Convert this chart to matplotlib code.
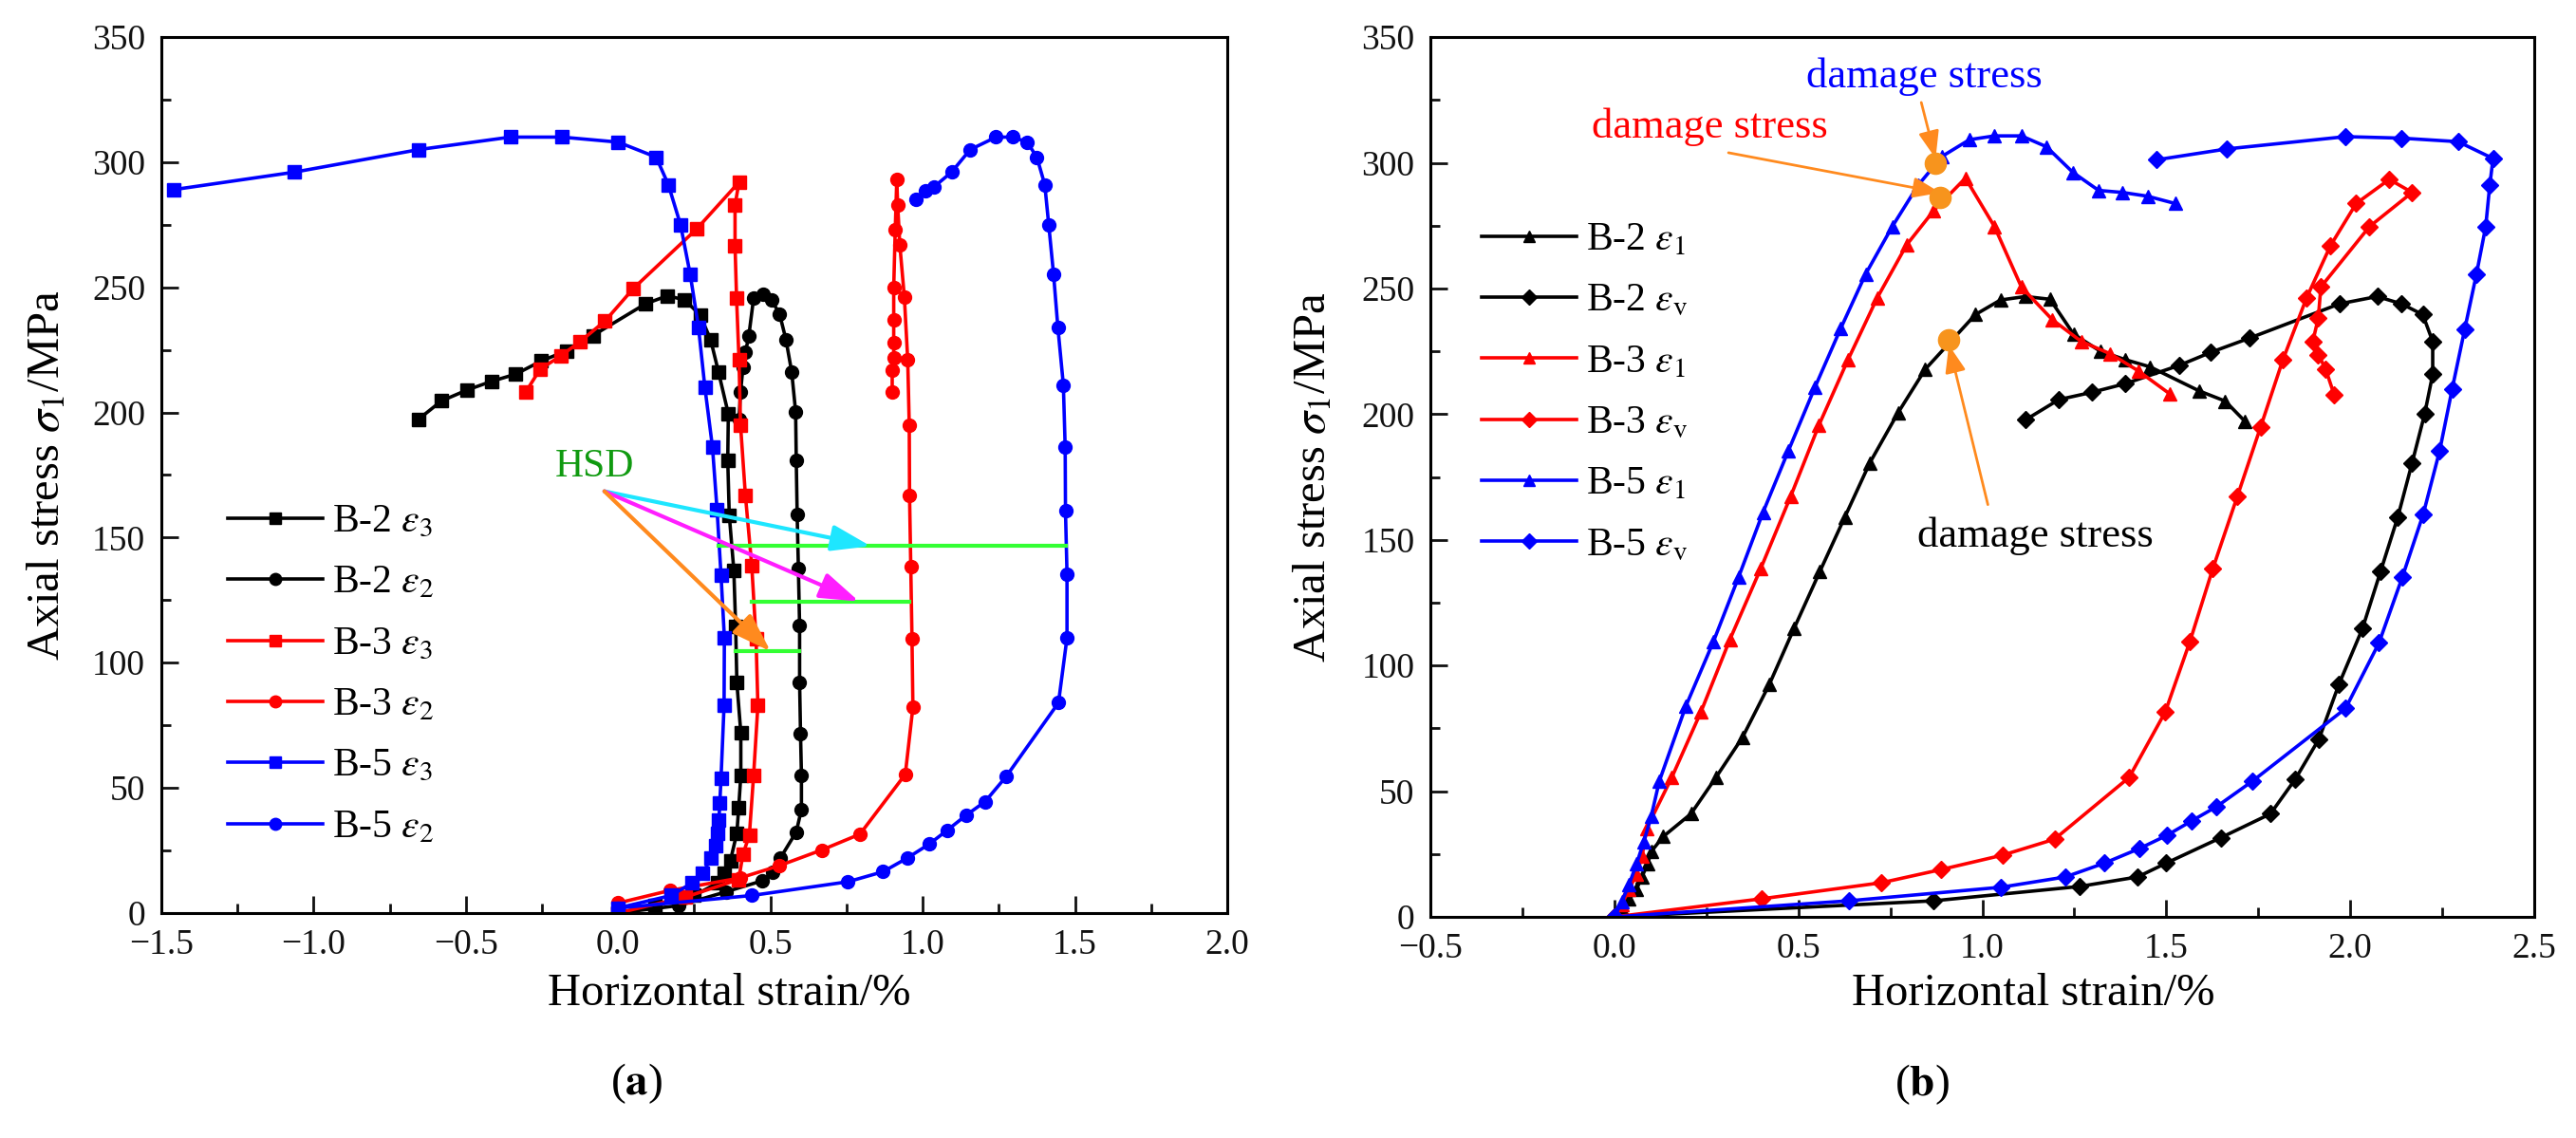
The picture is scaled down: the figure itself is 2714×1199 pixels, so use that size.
import matplotlib
matplotlib.use("Agg")
import matplotlib.pyplot as plt
from matplotlib.ticker import MultipleLocator

plt.rcParams["font.family"] = ["Liberation Serif", "DejaVu Serif"]
plt.rcParams["mathtext.fontset"] = "stix"

# ---- panel (a): horizontal strains ----
B2_E3_X = [0, 0.12, 0.25, 0.327, 0.348, 0.369, 0.39, 0.396, 0.403, 0.403, 0.39, 0.386, 0.38, 0.365,
           0.36, 0.362, 0.33, 0.304, 0.269, 0.218, 0.162, 0.09, -0.083, -0.17, -0.253, -0.336,
           -0.416, -0.495, -0.58, -0.655]
B2_E3_Y = [0, 3, 7, 12, 16, 21, 32, 42, 55, 72, 92, 114.5, 137, 159, 181, 199.4, 216, 229, 239,
           245, 246.6, 243.4, 230.7, 224.6, 220.5, 215.3, 212.4, 209, 204.6, 197.3]

B2_E2_X = [0, 0.20, 0.355, 0.474, 0.508, 0.532, 0.585, 0.602, 0.602, 0.599, 0.596, 0.596, 0.592,
           0.588, 0.585, 0.583, 0.570, 0.551, 0.530, 0.503, 0.477, 0.445, 0.429, 0.418, 0.41,
           0.402, 0.397]
B2_E2_Y = [0, 3, 8.5, 12.9, 16.2, 21.8, 32.4, 41.4, 55, 71.7, 92.2, 114.7, 137.7, 159.2, 180.9,
           200.2, 216.2, 229.2, 239.4, 245.1, 247.2, 245.7, 230.4, 224, 218, 208, 197.3]

B3_E3_X = [0, 0.222, 0.396, 0.41, 0.431, 0.445, 0.459, 0.453, 0.439, 0.418, 0.402, 0.397, 0.389,
           0.384, 0.384, 0.397, 0.258, 0.05, -0.043, -0.125, -0.189, -0.256, -0.304]
B3_E3_Y = [0, 6.4, 13.4, 23.5, 31.1, 55.1, 82.9, 109.4, 138.6, 166.9, 195, 221, 245.7, 266.6,
           282.8, 292, 273.3, 249.5, 236.5, 228.3, 222.5, 217.3, 208]

B3_E2_X = [0, 0.17, 0.40, 0.529, 0.669, 0.794, 0.943, 0.968, 0.965, 0.961, 0.957, 0.956, 0.951,
           0.94, 0.925, 0.918, 0.915, 0.91, 0.905, 0.905, 0.905, 0.905, 0.90, 0.90]
B3_E2_Y = [4, 9, 14, 18.9, 25.2, 31.5, 55.4, 82.2, 109.7, 138.4, 166.9, 195, 221, 246, 267, 283,
           293, 273, 250, 237, 228, 222, 217, 208]

B5_E3_X = [0, 0.174, 0.243, 0.278, 0.306, 0.320, 0.327, 0.331, 0.334, 0.338, 0.348, 0.349, 0.338,
           0.325, 0.31, 0.285, 0.264, 0.237, 0.205, 0.165, 0.125, 0.0, -0.184, -0.354, -0.655,
           -1.063, -1.46]
B5_E3_Y = [2, 7, 12, 16, 22, 27, 32, 37, 44, 54, 83, 110, 135, 161, 186, 210, 234, 255, 275, 291,
           302, 308, 310, 310, 305, 296, 289]

B5_E2_X = [0, 0.439, 0.755, 0.870, 0.950, 1.021, 1.080, 1.142, 1.205, 1.274, 1.446, 1.474, 1.474,
           1.469, 1.468, 1.462, 1.444, 1.430, 1.414, 1.401, 1.375, 1.343, 1.297, 1.241, 1.156,
           1.095, 1.036, 1.01, 0.978]
B5_E2_Y = [2, 7, 12.5, 16.5, 22, 27.5, 33, 39, 44.5, 54.5, 84, 110, 135.5, 160.6, 186, 211, 234,
           255, 275, 291, 302, 308, 310, 310, 305, 296, 290, 288.6, 285]

# HSD bars: stress level, start strain, end strain
HSD_Y = [146.6, 124.5, 104.5]
HSD_X0 = [0.33, 0.44, 0.387]
HSD_X1 = [1.47, 0.957, 0.595]
HSD_TIP_X = [0.829, 0.791, 0.501]
HSD_COLORS = ["#1EE6FF", "#FF1EFF", "#FF8A1E"]

# ---- panel (b): axial and volumetric strains ----
B2_E1_X = [0, 0.02, 0.04, 0.06, 0.075, 0.09, 0.10, 0.133, 0.208, 0.276, 0.348, 0.421, 0.488, 0.558,
           0.626, 0.694, 0.771, 0.845, 0.981, 1.049, 1.117, 1.184, 1.248, 1.32, 1.388, 1.456,
           1.59, 1.66, 1.714]
B2_E1_Y = [0, 3, 7, 11, 16, 21, 26, 32, 41, 55.5, 71.4, 92.5, 114.7, 137.3, 159, 180.6, 200.6,
           217.9, 239.6, 245.4, 246.8, 245.7, 231.8, 225.1, 221.7, 218.8, 209.2, 205.2, 197.1]

B2_EV_X = [0, 0.868, 1.264, 1.422, 1.5, 1.648, 1.783, 1.851, 1.915, 1.969, 2.033, 2.082, 2.129,
           2.168, 2.202, 2.224, 2.224, 2.197, 2.139, 2.073, 1.971, 1.727, 1.621, 1.535, 1.388,
           1.298, 1.208, 1.117]
B2_EV_Y = [0, 6.4, 12.1, 15.9, 21.4, 31.5, 41, 54.9, 70.8, 92.5, 114.7, 137.3, 159, 180.6, 200,
           215.9, 228.9, 239.6, 243.9, 246.8, 243.9, 230.3, 224.6, 219.4, 212.1, 208.7, 205.8, 197.7]

B3_E1_X = [0, 0.02, 0.04, 0.06, 0.075, 0.088, 0.156, 0.235, 0.314, 0.398, 0.479, 0.556, 0.635,
           0.714, 0.794, 0.868, 0.954, 1.033, 1.106, 1.19, 1.269, 1.348, 1.423, 1.509]
B3_E1_Y = [0, 5, 11, 17, 24, 35.3, 55.5, 81.5, 110.4, 138.7, 167.3, 195.7, 221.7, 246.2, 267.3,
           281, 293.9, 274.6, 250.6, 237.6, 228.9, 224, 217.3, 208.1]

B3_EV_X = [0, 0.4, 0.726, 0.887, 1.056, 1.196, 1.399, 1.497, 1.564, 1.626, 1.693, 1.756, 1.817,
           1.881, 1.946, 2.016, 2.106, 2.168, 2.052, 1.92, 1.913, 1.898, 1.913, 1.933, 1.956]
B3_EV_Y = [0, 7.2, 13.6, 18.8, 24.6, 30.9, 55.5, 81.5, 109.5, 138.4, 167.3, 194.8, 221.7, 246.2,
           267, 283.8, 293.4, 288.2, 274.6, 250.6, 238.2, 228.9, 223.7, 217.9, 207.8]

B5_E1_X = [0, 0.02, 0.04, 0.06, 0.08, 0.10, 0.122, 0.194, 0.269, 0.337, 0.404, 0.473, 0.545, 0.615,
           0.683, 0.755, 0.825, 0.891, 0.965, 1.033, 1.106, 1.174, 1.246, 1.316, 1.381, 1.449, 1.524]
B5_E1_Y = [0, 6, 13, 21, 30, 40, 54, 83.8, 109.5, 135, 161, 185.5, 210.7, 234.1, 255.8, 274.6, 291,
           302.6, 309.2, 310.7, 310.7, 306.4, 296.2, 289, 288.2, 286.7, 283.8]

B5_EV_X = [0, 0.638, 1.051, 1.226, 1.332, 1.427, 1.501, 1.569, 1.637, 1.734, 1.987, 2.078, 2.141,
           2.198, 2.243, 2.277, 2.311, 2.343, 2.368, 2.379, 2.388, 2.293, 2.139, 1.987, 1.664, 1.474]
B5_EV_Y = [0, 6.4, 11.8, 15.9, 21.4, 27.2, 32.4, 38.2, 43.9, 54, 82.9, 109, 135, 160.1, 185.5,
           210.1, 233.8, 255.8, 274.6, 291, 301.7, 308.4, 309.8, 310.4, 305.5, 301.2]

# damage stress points and labels
DMG_X = [0.873, 0.886, 0.909]
DMG_Y = [299.7, 286.1, 229.5]
DMG_TEXT_X = [0.841, 0.258, 1.144]
DMG_TEXT_Y = [334.4, 314.2, 151.4]
DMG_COLORS = ["#0000FF", "#FF0000", "#000000"]

BLACK, RED, BLUE = "#000000", "#FF0000", "#0000FF"
LW, MS = 2.6, 10
TICK_FS, LEG_FS, LAB_FS = 27, 30, 35

fig = plt.figure(figsize=(27.14, 11.99), dpi=100)
ax1 = fig.add_axes([0.0626, 0.1977, 0.4138, 0.7698])
ax2 = fig.add_axes([0.5553, 0.1943, 0.4285, 0.7731])


def style_axes(ax, xlim, label_x, label_y, ylab_x):
    ax.set_xlim(*xlim)
    ax.set_ylim(0, 350)
    ax.xaxis.set_major_locator(MultipleLocator(0.5))
    ax.xaxis.set_minor_locator(MultipleLocator(0.25))
    ax.yaxis.set_major_locator(MultipleLocator(50))
    ax.yaxis.set_minor_locator(MultipleLocator(25))
    ax.tick_params(which="both", direction="in", width=2, top=False, right=False,
                   labelsize=TICK_FS, colors="#111111")
    ax.tick_params(which="major", length=13, pad=12)
    ax.tick_params(which="minor", length=7)
    ax.xaxis.set_major_formatter(plt.FuncFormatter(lambda v, p: f"{v:.1f}".replace("-", "\u2212")))
    for s in ax.spines.values():
        s.set_linewidth(2.2)
    ax.text(label_x, label_y, "Horizontal strain/%", transform=ax.transAxes,
            ha="center", va="center", fontsize=LAB_FS)
    ax.text(ylab_x, 0.5, r"Axial stress $\sigma_1$/MPa", transform=ax.transAxes,
            ha="center", va="center", rotation=90, fontsize=LAB_FS)


def curve(ax, x, y, color, marker, label, ms=MS):
    ax.plot(x, y, color=color, lw=LW, marker=marker, ms=ms, label=label)


def add_legend(ax, anchor):
    ax.legend(loc="upper left", bbox_to_anchor=anchor, frameon=False, fontsize=LEG_FS,
              handlelength=2.4, handletextpad=0.25, labelspacing=0.62, borderpad=0,
              borderaxespad=0, markerscale=0.9)


# panel (a)
curve(ax1, B2_E3_X, B2_E3_Y, BLACK, "s", r"B-2 $\varepsilon_3$")
curve(ax1, B2_E2_X, B2_E2_Y, BLACK, "o", r"B-2 $\varepsilon_2$")
curve(ax1, B3_E3_X, B3_E3_Y, RED, "s", r"B-3 $\varepsilon_3$")
curve(ax1, B3_E2_X, B3_E2_Y, RED, "o", r"B-3 $\varepsilon_2$")
curve(ax1, B5_E3_X, B5_E3_Y, BLUE, "s", r"B-5 $\varepsilon_3$")
curve(ax1, B5_E2_X, B5_E2_Y, BLUE, "o", r"B-5 $\varepsilon_2$")

for y, x0, x1 in zip(HSD_Y, HSD_X0, HSD_X1):
    ax1.plot([x0, x1], [y, y], color="#33FF33", lw=3, zorder=5)
for y, tx, c in zip(HSD_Y, HSD_TIP_X, HSD_COLORS):
    ax1.annotate("", xy=(tx, y), xytext=(-0.045, 168.5),
                 arrowprops=dict(arrowstyle="-|>,head_length=0.9,head_width=0.3",
                                 color=c, lw=3, shrinkA=0, shrinkB=0, mutation_scale=28),
                 zorder=6)
ax1.text(-0.078, 178.2, "HSD", color="#109A10", fontsize=30, ha="center", va="center")

style_axes(ax1, (-1.5, 2.0), 0.533, -0.092, -0.107)
add_legend(ax1, (0.062, 0.467))

# panel (b)
curve(ax2, B2_E1_X, B2_E1_Y, BLACK, "^", r"B-2 $\varepsilon_1$")
curve(ax2, B2_EV_X, B2_EV_Y, BLACK, "D", r"B-2 $\varepsilon_{\rm v}$", ms=9)
curve(ax2, B3_E1_X, B3_E1_Y, RED, "^", r"B-3 $\varepsilon_1$")
curve(ax2, B3_EV_X, B3_EV_Y, RED, "D", r"B-3 $\varepsilon_{\rm v}$", ms=9)
curve(ax2, B5_E1_X, B5_E1_Y, BLUE, "^", r"B-5 $\varepsilon_1$")
curve(ax2, B5_EV_X, B5_EV_Y, BLUE, "D", r"B-5 $\varepsilon_{\rm v}$", ms=9)

arrow_from = [(0.834, 324.0), (0.31, 304.0), (1.015, 164.0)]
for (fx, fy), dx, dy in zip(arrow_from, DMG_X, DMG_Y):
    ax2.annotate("", xy=(dx, dy + (2 if dy > 250 else -2)), xytext=(fx, fy),
                 arrowprops=dict(arrowstyle="-|>,head_length=0.8,head_width=0.3",
                                 color="#FF8A1E", lw=2, shrinkA=0, shrinkB=0, mutation_scale=22),
                 zorder=6)
ax2.plot(DMG_X, DMG_Y, "o", color="#F7941D", ms=16, zorder=7)
for tx, ty, c in zip(DMG_TEXT_X, DMG_TEXT_Y, DMG_COLORS):
    ax2.text(tx, ty, "damage stress", color=c, fontsize=32, ha="center", va="center")

style_axes(ax2, (-0.5, 2.5), 0.546, -0.087, -0.106)
add_legend(ax2, (0.046, 0.79))

fig.text(0.247, 0.0475, r"($\mathbf{a}$)", fontsize=34, ha="center", va="center")
fig.text(0.746, 0.0467, r"($\mathbf{b}$)", fontsize=34, ha="center", va="center")

fig.savefig("out.png", dpi=100)
